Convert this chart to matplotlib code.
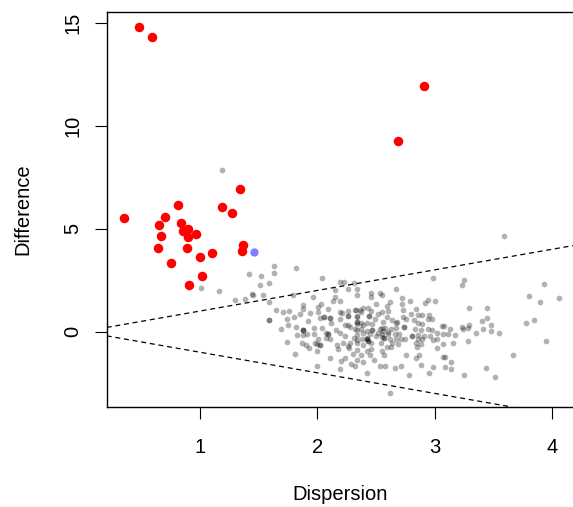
import matplotlib
matplotlib.use("Agg")
import matplotlib.pyplot as plt

plt.rcParams['font.family'] = ['Liberation Sans', 'DejaVu Sans']

# ---- data ----
grey_x = [1.19, 1.63, 1.82, 1.42, 1.52, 1.63, 2.04, 2.19, 2.23, 1.59, 1.51, 3.59, 2.99, 3.25, 3.23, 3.93,
          1.01, 1.16, 1.44, 1.45, 1.54, 1.38, 1.30, 2.15, 2.15, 1.96, 1.79, 2.26, 2.31, 1.59,
          3.29, 3.45, 3.45, 3.40, 3.48, 3.41, 3.48, 3.55, 3.35, 3.29, 3.28, 3.23, 3.24, 3.17, 3.16, 3.28,
          3.78, 3.85, 3.95, 3.67, 3.14, 3.14, 3.44, 3.25, 3.51, 3.13, 3.80, 3.90, 4.06,
          2.34, 2.67, 2.46, 2.53, 2.55, 2.46, 2.72, 2.79, 2.72, 2.62, 2.94, 3.00, 2.92, 2.59, 2.50,
          2.39, 2.43, 2.36, 2.33, 2.37, 2.46, 2.60, 2.55, 2.73, 2.84, 2.80, 2.86, 2.95, 2.89,
          2.34, 2.44, 2.49, 2.52, 2.59, 2.64, 2.68, 2.73, 2.76, 2.98, 2.94,
          2.34, 2.37, 2.42, 2.47, 2.56, 2.82, 2.86, 2.89, 3.06, 3.08,
          2.32, 2.37, 2.42, 2.47, 2.53, 2.58, 2.63, 2.67, 2.74, 2.83, 2.88, 2.94, 2.98, 3.11,
          2.34, 2.39, 2.45, 2.50, 2.55, 2.60, 2.66, 2.70, 2.81, 2.86, 2.91, 2.96, 3.02, 3.07,
          2.38, 2.42, 2.43, 2.57, 2.62, 2.67, 2.71, 2.75, 2.86, 2.89, 2.99, 3.02,
          2.34, 2.39, 2.46, 2.54, 2.64, 2.69, 2.84, 2.88, 2.59, 2.63, 2.85, 3.02, 3.07,
          2.34, 2.42, 2.46, 2.55, 2.37, 2.45, 2.57, 2.76, 2.87, 3.07, 3.09,
          2.34, 2.39, 2.48, 2.84, 2.32, 2.53, 2.58, 2.66, 2.71, 2.88, 2.99, 3.09,
          2.42, 2.78, 2.95, 2.62,
          2.34, 1.65, 1.71, 1.76, 1.88, 1.88, 2.03, 2.01, 2.13, 2.19, 2.09,
          1.59, 1.74, 1.80, 1.85, 1.94, 2.01, 2.19, 2.21, 2.26, 2.32,
          1.92, 2.02, 2.06, 2.11, 2.12, 2.19, 2.26, 2.34,
          1.69, 1.75, 1.82, 1.88, 1.91, 1.97, 2.04, 2.07, 2.09, 2.16, 2.19, 2.24, 2.26, 2.28, 2.34,
          1.83, 1.88, 1.97, 2.01, 2.11, 2.24, 2.31,
          1.74, 1.87, 1.98, 2.02, 2.07, 2.17, 2.22, 2.26, 2.28, 2.34,
          1.90, 1.93, 2.00, 2.18, 2.27, 1.81, 2.11, 2.24, 2.30, 2.00, 2.20, 2.29, 2.19,
          # overlapping points (darker spots)
          1.59, 2.06, 2.11, 2.26, 1.88, 2.09, 2.02, 2.42, 2.57, 2.74, 2.81, 2.44, 2.34,
          1.88, 2.00, 2.34, 2.42, 2.43, 2.55, 2.56, 2.67, 2.55, 2.47, 2.52, 2.60, 2.39]
grey_y = [7.86, 3.19, 3.09, 2.78, 2.71, 2.83, 2.60, 2.42, 2.42, 2.37, 2.26, 4.65, 2.62, 2.52, 2.27, 2.31,
          2.14, 1.96, 1.82, 1.79, 1.79, 1.58, 1.53, 2.02, 1.69, 1.69, 1.79, 2.05, 2.34, 1.46,
          1.15, 1.17, 0.67, 0.54, 0.34, 0.15, 0.05, -0.08, -0.08, 0.31, 0.19, 0.21, 0.13, -0.18, -0.55, -0.45,
          0.44, 0.58, -0.44, -1.12, -1.49, -1.83, -1.78, -2.12, -2.19, 0.15, 1.75, 1.45, 1.63,
          2.07, 2.07, 1.87, 1.89, 1.79, 1.66, 1.61, 1.48, 1.33, 1.45, 1.54, 1.51, 1.41, 1.25, 1.33,
          1.14, 1.14, 1.06, 1.06, 0.93, 0.99, 1.01, 0.93, 1.06, 1.12, 0.85, 0.80, 0.83, 0.81,
          0.73, 0.76, 0.63, 0.85, 0.73, 0.56, 0.49, 0.72, 0.60, 0.60, 0.60,
          0.47, 0.44, 0.42, 0.39, 0.49, 0.56, 0.42, 0.39, 0.28, 0.28,
          0.15, 0.15, 0.05, 0.10, 0.12, 0.17, 0.12, 0.19, 0.21, 0.15, 0.07, 0.12, 0.10, -0.10,
          -0.15, -0.06, -0.13, -0.21, -0.13, -0.13, -0.13, -0.10, -0.21, -0.18, -0.21, -0.21, -0.08, -0.10,
          -0.37, -0.37, -0.45, -0.29, -0.34, -0.34, -0.37, -0.34, -0.37, -0.37, -0.40, -0.37,
          -0.57, -0.63, -0.57, -0.54, -0.54, -0.61, -0.57, -0.61, -0.73, -0.76, -0.75, -0.79, -0.61,
          -0.88, -0.93, -0.83, -0.93, -1.13, -1.15, -1.12, -1.12, -1.15, -1.22, -1.23,
          -1.38, -1.48, -1.39, -1.28, -1.69, -1.67, -1.67, -1.75, -1.67, -1.61, -1.70, -1.73,
          -2.00, -2.12, -2.03, -3.00,
          1.79, 1.07, 0.94, 1.02, 1.30, 1.12, 1.36, 1.22, 1.48, 1.48, 1.12,
          0.58, 0.60, 0.72, 0.88, 0.91, 0.96, 0.97, 0.90, 1.01, 1.06,
          0.54, 0.67, 0.70, 0.67, 0.44, 0.63, 0.76, 0.76,
          0.15, 0.31, 0.24, 0.10, -0.10, 0.17, 0.17, -0.05, -0.13, 0.08, -0.05, 0.33, 0.33, 0.21, 0.08,
          -0.16, -0.18, -0.10, -0.37, -0.34, -0.21, -0.29,
          -0.49, -0.54, -0.54, -0.66, -0.29, -0.65, -0.57, -0.70, -0.54, -0.42,
          -0.66, -0.78, -0.93, -0.83, -0.78, -1.10, -1.28, -1.28, -1.09, -1.67, -1.43, -1.56, -1.83,
          0.58, 0.70, 0.67, 0.76, 0.10, -0.13, -0.66, -0.37, -0.29, 0.21, -0.21, 0.76, 0.47,
          0.07, -0.60, 0.39, -0.32, -0.45, 0.19, 0.03, 0.42, -0.26, 0.10, -0.05, 0.00, 0.30]

red_x = [0.48, 0.59, 0.355, 0.81, 0.70, 0.65, 0.84, 0.67, 0.855, 0.90, 0.90, 0.97, 0.64,
         0.89, 0.75, 1.00, 1.10, 1.02, 0.91, 1.34, 1.19, 1.275, 1.37, 1.36, 2.69, 2.91]
red_y = [14.81, 14.29, 5.54, 6.16, 5.57, 5.18, 5.29, 4.66, 4.87, 4.97, 4.61, 4.76, 4.08,
         4.08, 3.33, 3.62, 3.83, 2.71, 2.26, 6.92, 6.03, 5.77, 4.21, 3.92, 9.24, 11.92]

blue_x = [1.458]
blue_y = [3.85]

x_ticks = [1, 2, 3, 4]
y_ticks = [0, 5, 10, 15]

# ---- figure ----
W, H = 573, 507
fig = plt.figure(figsize=(W / 100, H / 100), dpi=100)
left, right, top, bottom = 106.7, 573.0, 12.3, 407.0
ax = fig.add_axes([left / W, 1 - bottom / H, (right - left) / W, (bottom - top) / H])

ax.scatter(grey_x, grey_y, s=17, c='black', alpha=0.3, linewidths=0, zorder=2)
ax.scatter(red_x, red_y, s=47, c='#ff0000', linewidths=0, zorder=3)
ax.scatter(blue_x, blue_y, s=36, c='blue', alpha=0.5, linewidths=0, zorder=3)

ax.axline((0, 0), slope=1, color='black', lw=0.9, linestyle=(0, (4, 3)), zorder=1)
ax.axline((0, 0), slope=-1, color='black', lw=0.9, linestyle=(0, (4, 3)), zorder=1)

ax.set_xlim(0.205, 4.179)
ax.set_ylim(-3.66, 15.51)
ax.set_xticks(x_ticks)
ax.set_yticks(y_ticks)
ax.spines['right'].set_visible(False)
for sp in ['left', 'bottom', 'top']:
    ax.spines[sp].set_linewidth(1.0)

ax.tick_params(axis='both', length=8.6, width=0.8, labelsize=14.5)
ax.tick_params(axis='x', pad=13.5)
ax.tick_params(axis='y', pad=9.0)
for lbl in ax.get_yticklabels():
    lbl.set_rotation(90)
    lbl.set_va('center')
    lbl.set_ha('right')

fig.text(340 / W, 1 - 500 / H, 'Dispersion', ha='center', va='baseline', fontsize=14.5)
fig.text(28.5 / W, 1 - 209.5 / H, 'Difference', ha='center', va='baseline', rotation=90,
         rotation_mode='anchor', fontsize=14.5)

fig.savefig('out.png', dpi=100)
